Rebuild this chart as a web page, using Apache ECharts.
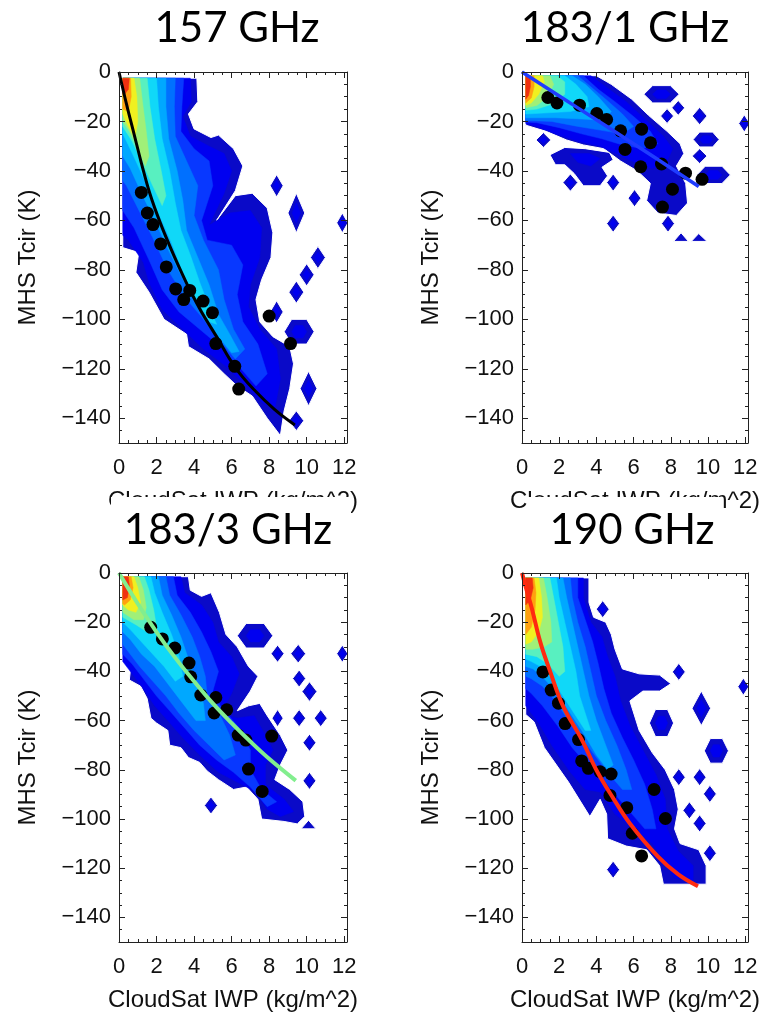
<!DOCTYPE html>
<html><head><meta charset="utf-8">
<script src="https://cdn.jsdelivr.net/npm/echarts@6/dist/echarts.min.js"></script>
<style>html,body{margin:0;padding:0;background:#fff}#c{width:765px;height:1013px}</style>
</head><body><div id="c"></div>
<script>
// ---------------- data ----------------
const titles = ['157 GHz', '183/1 GHz', '183/3 GHz', '190 GHz'];
const xName = 'CloudSat IWP (kg/m^2)';
const yName = 'MHS Tcir (K)';
const xMajorTicks = [0, 2, 4, 6, 8, 10, 12];
const yMajorTicks = [-140, -120, -100, -80, -60, -40, -20, 0];
const levelColors = ['#0a0ac8', '#0000f0', '#0838ff', '#0070ff', '#00a8ff', '#10d8f8', '#58f0c0', '#a0f078', '#f0f020', '#ffa010', '#f03010'];
const fitColors = ['#000000', '#1f3cff', '#82ee8e', '#ff2a10'];

// 157 GHz
const dots157 = [[1.19,-48.7],[1.51,-57],[1.81,-61.7],[2.22,-69.5],[2.52,-78.8],[3.02,-87.7],[3.45,-92],[3.77,-88.3],[4.48,-92.6],[4.98,-97.3],[5.16,-109.8],[6.17,-119],[6.38,-128.2],[8.0,-98.7],[9.14,-109.8]];
const fit157 = [[0,0],[0.4,-13],[0.8,-25],[1.2,-37],[1.64,-49],[2.2,-61],[2.8,-72],[3.3,-80.5],[3.77,-88],[4.4,-97],[5.2,-107],[6.2,-119.5],[7.2,-128.5],[8.3,-136.5],[9.37,-142.7]];
const body157 = [
  [[0.2,-2.5],[4.15,-2.5],[4.2,-12],[3.7,-17],[4.0,-23],[4.9,-26.5],[5.3,-25.5],[6.1,-31],[6.6,-38],[6.2,-48],[5.2,-60],[6.2,-50],[7.1,-49],[7.9,-55],[8.2,-65],[8.1,-75],[7.6,-84],[7.3,-92],[7.5,-101],[8.2,-107],[9.1,-111],[9.3,-118],[9.1,-128],[8.8,-137],[8.6,-147],[7.9,-140],[7.1,-131],[6.3,-127],[5.6,-122],[4.8,-116],[3.7,-111],[3.6,-106],[2.4,-100],[1.6,-89],[0.9,-81],[1.05,-73],[0.2,-71]],
  [[0.2,-2.5],[3.8,-2.5],[3.85,-12],[3.4,-18],[3.8,-26],[4.8,-30],[5.6,-33],[6.0,-40],[5.6,-49],[4.8,-62],[5.9,-57],[7.0,-56],[7.6,-63],[7.5,-75],[7.0,-86],[6.9,-95],[7.5,-104],[8.4,-112],[8.6,-124],[8.3,-136],[7.7,-134],[6.8,-127],[5.7,-119],[4.5,-112],[3.4,-104],[2.3,-96],[1.6,-85],[1.3,-77],[0.5,-68],[0.2,-66]],
  [[0.2,-2.5],[3.45,-2.5],[3.35,-14],[3.3,-24],[4.0,-31],[4.8,-36],[5.0,-46],[4.4,-60],[4.7,-68],[6.0,-70],[6.6,-78],[6.3,-90],[6.6,-101],[7.4,-110],[7.9,-122],[7.3,-127],[6.5,-120],[5.4,-111],[4.3,-104],[3.2,-97],[2.3,-88],[1.6,-76],[0.8,-63],[0.2,-56]],
  [[0.2,-2.5],[3.0,-2.5],[2.95,-14],[3.0,-26],[3.6,-36],[4.2,-46],[4.0,-58],[4.5,-68],[5.3,-80],[5.6,-92],[6.1,-104],[6.7,-112],[6.2,-116],[5.3,-108],[4.4,-99],[3.5,-91],[2.6,-80],[1.8,-67],[1.0,-55],[0.4,-46],[0.2,-44]],
  [[0.2,-2.5],[2.5,-2.5],[2.5,-14],[2.65,-27],[3.1,-40],[3.4,-52],[3.6,-64],[4.2,-75],[4.8,-86],[5.3,-98],[5.9,-106],[6.4,-113],[6.0,-113.5],[5.2,-106],[4.3,-96],[3.5,-85],[2.7,-73],[1.9,-60],[1.2,-49],[0.6,-39],[0.2,-34]],
  [[0.2,-2.5],[2.0,-2.5],[2.1,-14],[2.3,-27],[2.7,-40],[3.0,-53],[3.3,-64],[3.8,-74],[4.3,-85],[4.8,-95],[5.2,-102],[4.8,-101],[4.0,-91],[3.4,-81],[2.8,-69],[2.1,-57],[1.5,-46],[0.9,-36],[0.4,-28],[0.2,-25]],
  [[0.2,-2.5],[1.5,-2.5],[1.65,-14],[1.9,-27],[2.25,-40],[2.5,-50],[2.3,-54],[1.8,-46],[1.2,-36],[0.7,-28],[0.2,-22]],
  [[0.2,-2.5],[1.1,-2.5],[1.25,-12],[1.45,-24],[1.6,-34],[1.4,-38],[1.0,-31],[0.55,-24],[0.2,-20]],
  [[0.2,-2.5],[0.8,-2.5],[0.95,-10],[1.0,-20],[0.85,-27],[0.5,-22],[0.2,-17]],
  [[0.2,-2.5],[0.62,-2.5],[0.65,-10],[0.5,-16],[0.2,-15]],
  [[0.2,-2.5],[0.55,-2.5],[0.5,-7],[0.3,-9],[0.2,-9]]
];
const patches157 = [];
const islands157 = [[8.4,-46,0.35,4.5,0,'d'],[9.45,-57,0.45,8,0,'d'],[11.9,-61,0.3,4,0,'d'],[10.6,-75,0.4,4.5,0,'d'],[10.0,-82,0.4,4.5,0,'d'],[9.45,-89,0.4,4.5,0,'d'],[8.4,-97,0.35,4.5,0,'d'],[9.6,-105,0.8,5,0,'h'],[10.1,-128,0.45,7,0,'d'],[9.45,-141,0.4,4,0,'d']];

// 183/1 GHz
const dots183a = [[1.39,-10.3],[1.88,-12.5],[3.09,-13.4],[4.02,-16.8],[4.55,-19.2],[5.3,-23.8],[6.43,-23.1],[6.91,-28.6],[5.54,-31.3],[6.38,-38.3],[7.5,-37.2],[8.79,-40.9],[9.68,-43.4],[8.09,-47.4],[7.55,-54.6]];
const fit183a = [[0,0],[3,-14.5],[6,-29],[9.5,-46.3]];
const body183a = [
  [[0.2,-1.5],[4.0,-1.5],[4.8,-5],[5.9,-11],[6.8,-17.5],[7.8,-24],[8.5,-29],[8.7,-33],[8.3,-38],[8.8,-45],[8.9,-53],[8.3,-58],[7.3,-57],[6.7,-52],[6.9,-45],[6.2,-40],[5.3,-36],[4.4,-31],[3.3,-29.5],[2.4,-27.5],[1.3,-24],[0.2,-21.5]],
  [[0.2,-1.5],[3.7,-1.5],[4.5,-6],[5.6,-12],[6.6,-19],[7.6,-26],[8.1,-31],[7.8,-36],[7.0,-39],[6.2,-37],[5.2,-33.5],[4.2,-30],[3.0,-28],[1.8,-25],[0.8,-22],[0.2,-20.8]],
  [[0.2,-1.5],[3.3,-1.5],[4.1,-7],[5.0,-12],[6.0,-18],[6.9,-24],[7.3,-29],[6.5,-31],[5.4,-29.5],[4.3,-27],[3.2,-25],[2.0,-22.5],[0.8,-20.5],[0.2,-20.2]],
  [[0.2,-1.5],[3.0,-1.5],[3.7,-6],[4.5,-11],[5.4,-17],[6.0,-22],[5.4,-25],[4.2,-23.5],[3.0,-22],[1.6,-20],[0.2,-19.6]],
  [[0.2,-1.5],[2.7,-1.5],[3.4,-5],[4.1,-10],[4.8,-16],[4.4,-19.5],[3.2,-19],[1.8,-18.5],[0.2,-18.5]],
  [[0.2,-1.5],[2.3,-1.5],[2.9,-5],[3.5,-10],[3.6,-14],[2.6,-16],[1.4,-16.5],[0.2,-17]],
  [[0.2,-1.5],[1.9,-1.5],[2.3,-4],[2.3,-9],[1.6,-13],[0.8,-15],[0.2,-15.5]],
  [[0.2,-1.5],[1.5,-1.5],[1.7,-5],[1.4,-10],[0.8,-13.5],[0.2,-14.5]],
  [[0.2,-1.5],[1.1,-1.5],[1.2,-4],[0.9,-9],[0.5,-12.5],[0.2,-13.5]],
  [[0.2,-1.5],[0.65,-1.5],[0.65,-6],[0.5,-10.5],[0.2,-12.5]],
  [[0.2,-1.5],[0.45,-1.5],[0.45,-6],[0.35,-9.5],[0.2,-11]]
];
const patches183a = [
  [0, [[1.5,-33.5],[2.3,-30.5],[3.4,-31],[4.7,-32.5],[4.9,-35.5],[4.3,-38.5],[4.6,-42],[4.2,-46],[3.3,-46],[2.8,-41],[2.3,-37.5],[1.8,-37.5]]],
  [1, [[2.6,-33],[3.6,-33],[4.2,-35],[3.7,-38],[3.0,-36.5]]],
  [1, [[6.9,-44],[7.5,-40.5],[8.3,-44],[8.4,-51],[7.7,-55],[7.1,-50]]],
  [0, [[8.15,-68.5],[8.55,-65],[8.95,-68.5]]],
  [0, [[9.1,-68.5],[9.5,-65.3],[9.95,-68.5]]]
];
const islands183a = [[1.15,-27.5,0.4,3,0,'d'],[2.6,-44.7,0.4,3.5,0,'d'],[4.9,-44.7,0.35,3.5,0,'d'],[6.05,-51,0.35,3.5,0,'d'],[4.9,-61.3,0.35,3.5,0,'d'],[7.85,-61.3,0.35,3.5,0,'d'],[7.5,-9,0.95,3.5,0,'h'],[8.4,-14.5,0.35,3,0,'d'],[7.8,-17.8,0.35,3,0,'d'],[9.55,-17.8,0.4,3.5,0,'d'],[11.95,-20.8,0.3,3.5,0,'d'],[9.9,-27.3,0.7,3,0,'h'],[9.55,-34,0.4,3,0,'d'],[10.3,-41.6,0.9,3.5,0,'h']];

// 183/3 GHz
const dots183c = [[1.69,-22.1],[2.31,-26.8],[2.97,-30.5],[3.73,-36.6],[3.82,-42.2],[4.36,-49.6],[5.16,-50.6],[5.07,-56.9],[5.74,-55.6],[6.35,-65.9],[6.76,-67.9],[8.14,-66.3],[6.9,-79.7],[7.63,-88.8]];
const fit183c = [[0,0],[1,-12.5],[2,-24],[3,-34.5],[4,-44],[5,-53],[6,-61],[7,-68.5],[8,-75.5],[9.42,-84.4]];
const body183c = [
  [[0.2,-1.5],[3.7,-1.5],[3.8,-7],[4.4,-9.5],[4.9,-8],[5.35,-16],[5.7,-25],[6.3,-30],[6.9,-38],[7.4,-42],[7.0,-48],[6.3,-56],[6.9,-54],[7.5,-53],[7.9,-58],[8.6,-66],[9.0,-72],[8.6,-78],[8.3,-84],[9.1,-88],[9.8,-93],[9.9,-99],[9.5,-102],[8.8,-101],[7.6,-100],[7.4,-92],[6.8,-87],[6.1,-88],[5.3,-84],[4.7,-80.5],[4.3,-77],[3.7,-75],[3.3,-71],[2.7,-70],[2.6,-64],[2.0,-61],[1.7,-59],[1.5,-51],[1.15,-46],[0.55,-43.5],[0.6,-40],[0.2,-31]],
  [[0.2,-1.5],[3.3,-1.5],[3.5,-8],[4.4,-13],[5.0,-20],[5.3,-28],[6.0,-34],[6.4,-41],[6.0,-49],[5.4,-57],[6.3,-59],[7.2,-58],[7.8,-66],[8.2,-72],[7.8,-78],[7.8,-86],[8.8,-92],[9.3,-97],[8.6,-99],[7.9,-96],[7.3,-89],[6.3,-85],[5.3,-81],[4.3,-74],[3.4,-67],[2.6,-60],[1.9,-54],[1.3,-47],[0.7,-41],[0.2,-36]],
  [[0.2,-1.5],[2.9,-1.5],[3.1,-9],[3.8,-16],[4.4,-24],[4.9,-32],[5.3,-40],[5.0,-48],[5.4,-54],[6.4,-63],[7.0,-72],[7.0,-80],[7.6,-88],[8.4,-93],[7.9,-95],[7.0,-87],[6.1,-81],[5.2,-76],[4.3,-70],[3.5,-63],[2.7,-56],[2.0,-50],[1.3,-43],[0.7,-37],[0.2,-33]],
  [[0.2,-1.5],[2.5,-1.5],[2.7,-9],[3.3,-17],[3.9,-26],[4.3,-34],[4.6,-42],[4.7,-50],[5.4,-58],[5.9,-66],[6.2,-74],[5.6,-76],[4.8,-70],[4.0,-64],[3.2,-57],[2.5,-50],[1.8,-44],[1.1,-38],[0.5,-32],[0.2,-29]],
  [[0.2,-1.5],[2.1,-1.5],[2.3,-9],[2.8,-17],[3.3,-26],[3.7,-35],[4.1,-44],[4.5,-53],[4.6,-60],[4.1,-60],[3.4,-53],[2.6,-45],[1.9,-38],[1.2,-33],[0.6,-27],[0.2,-24]],
  [[0.2,-1.5],[1.7,-1.5],[1.9,-8],[2.3,-16],[2.8,-25],[3.2,-34],[3.4,-42],[3.0,-44],[2.4,-38],[1.8,-33],[1.2,-28],[0.6,-23],[0.2,-20]],
  [[0.2,-1.5],[1.35,-1.5],[1.6,-7],[1.85,-15],[2.0,-22],[1.5,-24],[0.9,-21],[0.2,-18]],
  [[0.2,-1.5],[1.05,-1.5],[1.3,-7],[1.45,-14],[1.3,-19],[0.8,-19],[0.2,-16]],
  [[0.2,-1.5],[0.8,-1.5],[1.0,-6],[1.15,-12],[0.9,-16],[0.5,-15],[0.2,-13]],
  [[0.2,-1.5],[0.65,-1.5],[0.75,-6],[0.6,-11],[0.3,-13],[0.2,-12.5]],
  [[0.2,-1.5],[0.5,-1.5],[0.55,-5],[0.45,-10],[0.2,-11]]
];
const patches183c = [[0, [[9.7,-104],[10.1,-100.5],[10.5,-104]]]];
const islands183c = [[7.25,-25.5,0.95,5,0,'h'],[8.45,-32.8,0.35,3.5,0,'d'],[9.55,-32.8,0.4,3.8,0,'d'],[11.9,-32.8,0.3,3.5,0,'d'],[9.6,-42.9,0.35,3.5,0,'d'],[10.15,-48.2,0.4,4,0,'d'],[8.45,-59,0.3,3.5,0,'d'],[9.6,-59,0.35,3.5,0,'d'],[10.75,-59,0.35,3.5,0,'d'],[10.15,-69,0.35,3.5,0,'d'],[10.15,-84.5,0.35,3.5,0,'d'],[4.9,-94.5,0.35,3.5,0,'d']];

// 190 GHz
const dots190 = [[1.125,-40.2],[1.57,-47.6],[1.96,-52.9],[2.32,-61.2],[3.04,-67.7],[3.21,-76.4],[3.57,-79.4],[4.2,-80.8],[4.79,-81.7],[4.73,-90.4],[5.63,-95.4],[7.1,-88],[5.93,-105.8],[7.71,-99.8],[6.43,-115]];
const fit190 = [[0,0],[0.25,-7],[0.54,-14.7],[0.98,-28],[1.52,-40.2],[2.2,-54],[3.21,-67.7],[4.02,-80.4],[4.9,-91.5],[5.8,-101.8],[7.3,-115.2],[8.4,-122.5],[9.46,-127.3]];
const body190 = [
  [[0.2,-2],[3.6,-2],[3.6,-12],[3.85,-18],[4.5,-20],[4.8,-25],[5.0,-31],[5.4,-39],[6.3,-41],[7.4,-41.5],[8.0,-45],[7.4,-48],[6.5,-48],[5.8,-52],[6.3,-64],[7.0,-73],[7.7,-80],[8.2,-88],[8.4,-96],[8.2,-104],[8.5,-110],[9.5,-112.5],[9.9,-119],[9.9,-126.5],[7.6,-126.5],[7.4,-119],[6.7,-112.5],[5.6,-111],[4.6,-108],[4.55,-98],[4.2,-92],[3.65,-99],[2.5,-85],[1.2,-71],[0.65,-60.5],[0.2,-57.5]],
  [[0.2,-2],[3.3,-2],[3.3,-10],[3.7,-20],[4.3,-26],[4.6,-34],[5.0,-42],[5.3,-52],[5.8,-62],[6.5,-72],[7.2,-82],[7.7,-92],[7.8,-104],[8.4,-113],[9.2,-119],[9.2,-125],[8.2,-124],[7.8,-118],[7.0,-110],[6.0,-104],[5.0,-98],[4.2,-89],[3.4,-88],[2.6,-81],[1.6,-70],[0.9,-61],[0.2,-54]],
  [[0.2,-2],[3.0,-2],[3.0,-10],[3.4,-19],[3.8,-28],[4.1,-37],[4.4,-47],[4.8,-57],[5.4,-67],[6.0,-76],[6.6,-86],[7.0,-96],[7.2,-104],[6.6,-104],[5.8,-97],[5.0,-90],[4.3,-83],[3.5,-78],[2.7,-71],[1.9,-62],[1.1,-54],[0.5,-49],[0.2,-47]],
  [[0.2,-2],[2.6,-2],[2.7,-10],[3.0,-20],[3.4,-30],[3.7,-40],[4.0,-50],[4.5,-60],[5.1,-70],[5.6,-80],[5.9,-88],[5.4,-88],[4.6,-81],[3.9,-74],[3.2,-67],[2.5,-60],[1.8,-52],[1.1,-46],[0.5,-43],[0.2,-42]],
  [[0.2,-2],[2.2,-2],[2.4,-10],[2.7,-20],[3.0,-30],[3.3,-40],[3.6,-50],[4.0,-60],[4.5,-70],[4.9,-78],[4.6,-80],[4.0,-74],[3.3,-65],[2.6,-57],[1.9,-49],[1.2,-43],[0.6,-39],[0.2,-38]],
  [[0.2,-2],[1.85,-2],[2.0,-10],[2.3,-20],[2.6,-30],[2.9,-40],[3.1,-50],[3.4,-57],[3.7,-64],[3.4,-64],[2.8,-57],[2.2,-50],[1.6,-43],[1.0,-38],[0.5,-36],[0.2,-35]],
  [[0.2,-2],[1.5,-2],[1.7,-10],[1.95,-20],[2.2,-30],[2.3,-40],[2.0,-42],[1.4,-37],[0.8,-34],[0.2,-33]],
  [[0.2,-2],[1.15,-2],[1.35,-10],[1.55,-20],[1.6,-28],[1.2,-30],[0.6,-31],[0.2,-31]],
  [[0.2,-2],[0.9,-2],[1.05,-10],[1.1,-18],[0.9,-24],[0.5,-28],[0.2,-29]],
  [[0.2,-2],[0.65,-2],[0.75,-8],[0.7,-15],[0.5,-22],[0.2,-25]],
  [[0.2,-2],[0.55,-2],[0.6,-6],[0.45,-11],[0.2,-13]]
];
const patches190 = [];
const islands190 = [[4.34,-14.7,0.35,3.5,0,'d'],[8.43,-40.2,0.35,3.5,0,'d'],[11.9,-46.2,0.3,3.5,0,'d'],[7.5,-61,0.65,5.5,0,'h'],[9.64,-55,0.5,7,0,'d'],[10.45,-72.3,0.65,5,0,'h'],[8.43,-83,0.35,3.5,0,'d'],[9.55,-83,0.35,3.5,0,'d'],[10.1,-89.8,0.35,3.5,0,'d'],[9.0,-96.5,0.35,3.5,0,'d'],[9.55,-101.8,0.35,3.5,0,'d'],[10.1,-113.9,0.35,3.5,0,'d'],[4.9,-120.6,0.35,3.5,0,'d']];

// ---------------- layout ----------------
const X_MIN = 0, X_MAX = 12.15, Y_MIN = -150, Y_MAX = 0;
const grids = [
  {left: 119, top: 72, width: 228, height: 371},
  {left: 522, top: 72, width: 226, height: 371},
  {left: 119, top: 573, width: 228, height: 374},
  {left: 522, top: 573, width: 226, height: 374}
];
const panels = [
  {dots: dots157, fit: fit157, body: body157, patches: patches157, islands: islands157, lw: 3},
  {dots: dots183a, fit: fit183a, body: body183a, patches: patches183a, islands: islands183a, lw: 3.5},
  {dots: dots183c, fit: fit183c, body: body183c, patches: patches183c, islands: islands183c, lw: 4},
  {dots: dots190, fit: fit190, body: body190, patches: patches190, islands: islands190, lw: 4}
];
const xMinorTicks = []; for (let v = 0; v <= 12; v += 0.5) xMinorTicks.push(v);
const yMinorTicks = []; for (let v = -145; v <= 0; v += 5) yMinorTicks.push(v);

const FONT = "'Liberation Sans', Arial, Helvetica, sans-serif";
const AX = '#222';
const MAJ = 6, MIN = 3;
const NX = 4, NY = 4; // axes per grid

function islandShape(x, y, hx, hy, kind) {
  if (kind === 'h') return [[x-hx,y],[x-hx/2,y+hy],[x+hx/2,y+hy],[x+hx,y],[x+hx/2,y-hy],[x-hx/2,y-hy]];
  return [[x-hx,y],[x,y+hy],[x+hx,y],[x,y-hy]];
}

const xAxis = [], yAxis = [], series = [];
grids.forEach((g, gi) => {
  const bx = {type: 'value', gridIndex: gi, min: X_MIN, max: X_MAX, splitLine: {show: false}, z: 10};
  const by = {type: 'value', gridIndex: gi, min: Y_MIN, max: Y_MAX, splitLine: {show: false}, z: 10};
  const line = {show: true, onZero: false, lineStyle: {color: AX, width: 1}};
  const noLine = {show: false, onZero: false};
  const tick = (vals, len) => ({show: true, inside: true, length: len, customValues: vals, lineStyle: {color: AX, width: 1}});
  const noLabel = {show: false};
  xAxis.push(Object.assign({}, bx, {position: 'bottom', axisLine: line, axisTick: tick(xMajorTicks, MAJ),
    axisLabel: {show: true, customValues: xMajorTicks, fontSize: 22, fontFamily: FONT, color: '#111', margin: 14},
    name: xName, nameLocation: 'middle', nameGap: 46, nameTextStyle: {fontSize: 24, fontFamily: FONT, color: '#111'}}));
  xAxis.push(Object.assign({}, bx, {position: 'top', axisLine: line, axisTick: tick(xMajorTicks, MAJ), axisLabel: noLabel}));
  xAxis.push(Object.assign({}, bx, {position: 'bottom', axisLine: noLine, axisTick: tick(xMinorTicks, MIN), axisLabel: noLabel}));
  xAxis.push(Object.assign({}, bx, {position: 'top', axisLine: noLine, axisTick: tick(xMinorTicks, MIN), axisLabel: noLabel}));

  yAxis.push(Object.assign({}, by, {position: 'left', axisLine: line, axisTick: tick(yMajorTicks, MAJ),
    axisLabel: {show: true, customValues: yMajorTicks, fontSize: 22, fontFamily: FONT, color: '#111', margin: 8,
      formatter: v => v < 0 ? '\u2212' + (-v) : String(v)},
    name: yName, nameLocation: 'middle', nameGap: 79, nameTextStyle: {fontSize: 24, fontFamily: FONT, color: '#111'}}));
  yAxis.push(Object.assign({}, by, {position: 'right', axisLine: line, axisTick: tick(yMajorTicks, MAJ), axisLabel: noLabel}));
  yAxis.push(Object.assign({}, by, {position: 'left', axisLine: noLine, axisTick: tick(yMinorTicks, MIN), axisLabel: noLabel}));
  yAxis.push(Object.assign({}, by, {position: 'right', axisLine: noLine, axisTick: tick(yMinorTicks, MIN), axisLabel: noLabel}));

  const p = panels[gi];
  const items = [];
  p.islands.forEach(([x, y, hx, hy, lv, k]) => {
    items.push([lv, islandShape(x, y, hx, hy, k)]);
    items.push([lv + 1, islandShape(x, y, hx * 0.5, hy * 0.5, k)]);
  });
  p.patches.forEach(pt => items.push(pt));
  p.body.forEach((pts, lv) => items.push([lv, pts]));
  const xi = gi * NX, yi = gi * NY;
  series.push({
    type: 'custom', xAxisIndex: xi, yAxisIndex: yi, clip: true, silent: true, z: 1,
    data: items.map(it => it[1][0]),
    renderItem(params, api) {
      const it = items[params.dataIndex];
      return {type: 'polygon', shape: {points: it[1].map(pt => api.coord(pt))},
        style: {fill: levelColors[it[0]], stroke: it[0] === 0 ? '#ffffff' : levelColors[it[0]], lineWidth: it[0] === 0 ? 1 : 0.5}};
    }
  });
  series.push({type: 'scatter', xAxisIndex: xi, yAxisIndex: yi, data: p.dots, symbolSize: 13,
    itemStyle: {color: '#000', opacity: 1}, z: 3, silent: true});
  series.push({type: 'line', xAxisIndex: xi, yAxisIndex: yi, data: p.fit, smooth: 0.4, symbol: 'none',
    lineStyle: {color: fitColors[gi], width: p.lw}, z: 4, silent: true});
});

const TFONT = "42px Lato, 'Open Sans', sans-serif";
const graphic = [
  {type: 'rect', z: 100, shape: {x: 111, y: 497, width: 240, height: 63}, style: {fill: '#fff'}},
  {type: 'rect', z: 100, shape: {x: 527, y: 497, width: 195, height: 63}, style: {fill: '#fff'}},
  {type: 'text', z: 101, x: 237, y: 28, style: {text: titles[0], font: TFONT, fill: '#000', align: 'center', verticalAlign: 'middle'}},
  {type: 'text', z: 101, x: 625, y: 28, style: {text: titles[1], font: TFONT, fill: '#000', align: 'center', verticalAlign: 'middle'}},
  {type: 'text', z: 101, x: 228, y: 530, style: {text: titles[2], font: TFONT, fill: '#000', align: 'center', verticalAlign: 'middle'}},
  {type: 'text', z: 101, x: 632, y: 530, style: {text: titles[3], font: TFONT, fill: '#000', align: 'center', verticalAlign: 'middle'}}
];

const chart = echarts.init(document.getElementById('c'), null, {renderer: 'canvas'});
chart.setOption({animation: false, backgroundColor: '#fff', grid: grids, xAxis, yAxis, series, graphic});
</script>
</body></html>
